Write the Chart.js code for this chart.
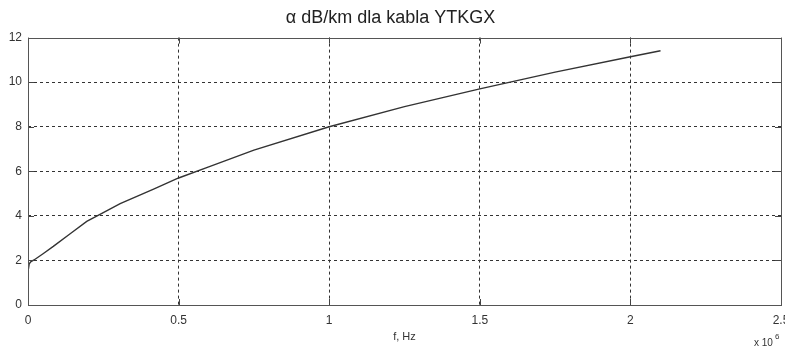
<!DOCTYPE html>
<html>
<head>
<meta charset="utf-8">
<script src="https://cdn.jsdelivr.net/npm/chart.js@4/dist/chart.umd.min.js"></script>
<style>
  html, body { margin: 0; padding: 0; background: #fff; }
  #wrap { width: 785px; height: 349px; }
</style>
</head>
<body>
<div id="wrap"><canvas id="c" width="785" height="349"></canvas></div>
<script>
// Frequency in units of 10^6 Hz (MHz)
const freqMHz = [0, 0, 0.004, 0.01, 0.02, 0.05, 0.084, 0.14, 0.195, 0.25, 0.306, 0.417, 0.5, 0.6, 0.75, 1.0, 1.25, 1.5, 1.75, 2.0, 2.1];
// Attenuation alpha in dB/km
const attenuation = [0.55, 1.5, 1.85, 1.95, 2.02, 2.3, 2.63, 3.2, 3.75, 4.15, 4.55, 5.2, 5.7, 6.2, 6.95, 8.0, 8.9, 9.7, 10.45, 11.14, 11.41];
const xTicks = [0, 0.5, 1, 1.5, 2, 2.5];
const yTicks = [0, 2, 4, 6, 8, 10, 12];
const titleText = 'α dB/km dla kabla YTKGX';
const xLabel = 'f, Hz';

const points = freqMHz.map((f, i) => ({ x: f, y: attenuation[i] }));
const FONT = 'Liberation Sans, Arial, sans-serif';

const boxPlugin = {
  id: 'matlabBox',
  afterDraw(chart) {
    const { ctx, chartArea: a, scales } = chart;
    ctx.save();
    ctx.strokeStyle = '#444';
    ctx.lineWidth = 1;
    ctx.setLineDash([]);
    const tl = 6;
    ctx.beginPath();
    xTicks.forEach(v => {
      const px = Math.round(scales.x.getPixelForValue(v)) + 0.5;
      ctx.moveTo(px, a.bottom); ctx.lineTo(px, a.bottom - tl);
      ctx.moveTo(px, a.top); ctx.lineTo(px, a.top + tl);
    });
    yTicks.forEach(v => {
      const py = Math.round(scales.y.getPixelForValue(v)) + 0.5;
      ctx.moveTo(a.left, py); ctx.lineTo(a.left + tl, py);
      ctx.moveTo(a.right, py); ctx.lineTo(a.right - tl, py);
    });
    ctx.stroke();
    ctx.strokeStyle = '#555';
    ctx.strokeRect(Math.round(a.left) + 0.5, Math.round(a.top) + 0.5,
                   Math.round(a.right - a.left), Math.round(a.bottom - a.top));
    ctx.fillStyle = '#333';
    ctx.textBaseline = 'alphabetic';
    ctx.textAlign = 'left';
    ctx.font = '10px ' + FONT;
    ctx.fillText('x 10', 754, 346);
    ctx.font = '8px ' + FONT;
    ctx.fillText('6', 775, 339);
    ctx.restore();
  }
};

const edgeFree = (lo, hi) => ctx =>
  (ctx.tick && (ctx.tick.value === lo || ctx.tick.value === hi)) ? 'rgba(0,0,0,0)' : '#333';

new Chart(document.getElementById('c'), {
  type: 'line',
  data: {
    datasets: [{
      data: points,
      borderColor: '#333',
      borderWidth: 1.4,
      pointRadius: 0,
      tension: 0,
      fill: false
    }]
  },
  options: {
    responsive: false,
    animation: false,
    layout: { padding: { left: 0, right: 4, top: 0, bottom: 0 } },
    plugins: {
      legend: { display: false },
      tooltip: { enabled: false },
      title: {
        display: true,
        text: titleText,
        color: '#222',
        font: { family: FONT, size: 18, weight: 'normal' },
        padding: { top: 7, bottom: 9 }
      }
    },
    scales: {
      x: {
        type: 'linear',
        min: 0, max: 2.5,
        afterBuildTicks(scale) { scale.ticks = xTicks.map(v => ({ value: v })); },
        afterFit(scale) { scale.height = 44; scale.paddingLeft = 0; scale.paddingRight = 0; },
        ticks: {
          color: '#333',
          padding: 8,
          maxRotation: 0,
          font: { family: FONT, size: 12 },
          callback: v => String(v)
        },
        grid: { color: edgeFree(0, 2.5), lineWidth: 1, drawTicks: false },
        border: { display: false, dash: [3, 3] },
        title: {
          display: true,
          text: xLabel,
          color: '#333',
          font: { family: FONT, size: 11 },
          padding: { top: 0, bottom: 5 }
        }
      },
      y: {
        type: 'linear',
        min: 0, max: 12,
        afterBuildTicks(scale) { scale.ticks = yTicks.map(v => ({ value: v })); },
        afterFit(scale) { scale.width = 28; scale.paddingTop = 0; scale.paddingBottom = 0; },
        ticks: {
          color: '#333',
          padding: 6,
          font: { family: FONT, size: 12 }
        },
        grid: { color: edgeFree(0, 12), lineWidth: 1, drawTicks: false },
        border: { display: false, dash: [3, 3] }
      }
    }
  },
  plugins: [boxPlugin]
});
</script>
</body>
</html>
